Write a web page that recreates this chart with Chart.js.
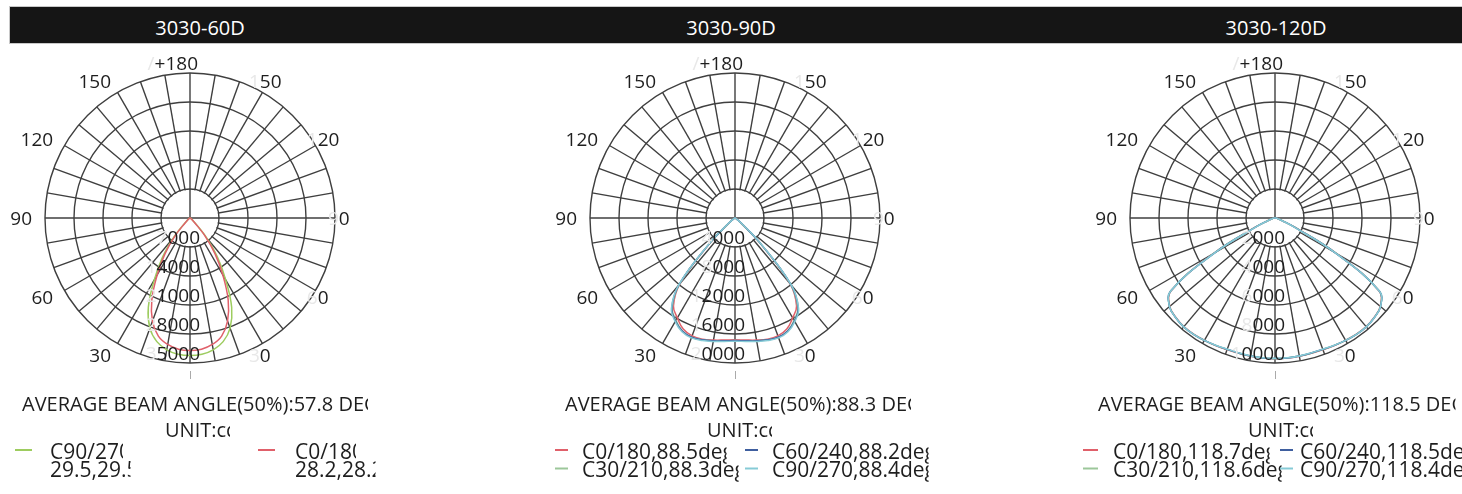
<!DOCTYPE html>
<html>
<head>
<meta charset="utf-8">
<title>3030 polar curves</title>
<script src="https://cdn.jsdelivr.net/npm/chart.js@4.4.1/dist/chart.umd.min.js"></script>
<style>
  html, body { margin: 0; padding: 0; background: #fff; }
  body { width: 1462px; height: 494px; position: relative; overflow: hidden; font-family: "Open Sans", sans-serif; }
  .bar { position: absolute; left: 10px; top: 7px; width: 1460px; height: 36px; background: #151515; box-shadow: 0 0 0 1px #c8c8c8; }
  .title { position: absolute; top: 10px; line-height: 36px; color: #fff; font-size: 20px; transform: translateX(-50%); white-space: nowrap; }
  canvas { position: absolute; top: 48px; }
</style>
</head>
<body>
<div class="bar"></div>
<div class="title" style="left:200px">3030-60D</div>
<div class="title" style="left:731px">3030-90D</div>
<div class="title" style="left:1276px">3030-120D</div>
<canvas id="p60" width="400" height="446" style="left:-10px"></canvas>
<canvas id="p90" width="400" height="446" style="left:535px"></canvas>
<canvas id="p120" width="400" height="446" style="left:1075px"></canvas>
<script>
// intensity (cd) per gamma angle 0,5,...,180 deg, one half of each C-plane
const lens60_C0  = [32000, 31800, 31000, 29500, 26500, 21800, 15800, 10500, 5500, 1600, 600, 300, 200, 120, 80, 50, 30, 20, 10, 0, 0, 0, 0, 0, 0, 0, 0, 0, 0, 0, 0, 0, 0, 0, 0, 0, 0];
const lens60_C90 = [33200, 33000, 32300, 30900, 28300, 23800, 17200, 11600, 6200, 2000, 800, 400, 250, 150, 100, 60, 40, 20, 10, 0, 0, 0, 0, 0, 0, 0, 0, 0, 0, 0, 0, 0, 0, 0, 0, 0, 0];

const lens90_C0  = [16800, 16900, 17100, 17300, 17300, 16900, 15900, 14800, 11800, 4800, 1100, 400, 200, 100, 50, 30, 20, 10, 0, 0, 0, 0, 0, 0, 0, 0, 0, 0, 0, 0, 0, 0, 0, 0, 0, 0, 0];
const lens90_C30 = [16900, 17000, 17200, 17400, 17500, 17200, 16300, 15100, 11900, 4900, 1150, 400, 200, 100, 50, 30, 20, 10, 0, 0, 0, 0, 0, 0, 0, 0, 0, 0, 0, 0, 0, 0, 0, 0, 0, 0, 0];
const lens90_C60 = [16900, 17000, 17200, 17400, 17500, 17200, 16400, 15200, 12000, 5000, 1200, 400, 200, 100, 50, 30, 20, 10, 0, 0, 0, 0, 0, 0, 0, 0, 0, 0, 0, 0, 0, 0, 0, 0, 0, 0, 0];
const lens90_C90 = [17000, 17100, 17300, 17500, 17600, 17300, 16500, 15300, 12100, 5100, 1200, 400, 200, 100, 50, 30, 20, 10, 0, 0, 0, 0, 0, 0, 0, 0, 0, 0, 0, 0, 0, 0, 0, 0, 0, 0, 0];

const lens120_C0  = [9700, 9700, 9680, 9660, 9660, 9700, 9740, 9780, 9780, 9680, 9480, 8750, 4900, 1500, 500, 250, 150, 100, 50, 0, 0, 0, 0, 0, 0, 0, 0, 0, 0, 0, 0, 0, 0, 0, 0, 0, 0];
const lens120_C30 = [9700, 9690, 9670, 9650, 9650, 9690, 9740, 9790, 9790, 9690, 9490, 8780, 4850, 1500, 500, 250, 150, 100, 50, 0, 0, 0, 0, 0, 0, 0, 0, 0, 0, 0, 0, 0, 0, 0, 0, 0, 0];
const lens120_C60 = [9690, 9690, 9670, 9640, 9640, 9690, 9750, 9800, 9800, 9700, 9500, 8800, 4800, 1450, 480, 240, 150, 100, 50, 0, 0, 0, 0, 0, 0, 0, 0, 0, 0, 0, 0, 0, 0, 0, 0, 0, 0];
const lens120_C90 = [9680, 9680, 9660, 9630, 9630, 9680, 9740, 9790, 9800, 9700, 9500, 8800, 4750, 1400, 460, 230, 140, 90, 50, 0, 0, 0, 0, 0, 0, 0, 0, 0, 0, 0, 0, 0, 0, 0, 0, 0, 0];

// ring values (tick labels)
const rings60 = [7000, 14000, 21000, 28000, 35000];
const rings90 = [4000, 8000, 12000, 16000, 20000];
const rings120 = [2000, 4000, 6000, 8000, 10000];

// angle labels on both sides and the top one
const sideAngles = [30, 60, 90, 120, 150];
const topLabel = '/+180';

const STEP = 5; // degrees between radar spokes
const labels = Array.from({ length: 360 / STEP }, (_, i) => i * STEP);

const GRID = '#3f3f3f';
const FAINT = '#e8e8e8';
const INK = '#1e1e1e';

// left half (gamma 0..180) plus the mirrored right half
const mirror = half => half.concat(half.slice(1, half.length - 1).reverse());

function drawText(ctx, text, x, y, align, faintFirst) {
  const w = ctx.measureText(text).width;
  let x0 = align === 'right' ? x - w : align === 'center' ? x - w / 2 : x;
  ctx.textAlign = 'left';
  if (faintFirst) {
    ctx.fillStyle = FAINT;
    ctx.fillText(text[0], x0, y);
    x0 += ctx.measureText(text[0]).width;
    text = text.slice(1);
  }
  ctx.fillStyle = INK;
  ctx.fillText(text, x0, y);
}

// text cut off a few pixels after its first `keep` characters
function cutText(ctx, text, x, y, keep) {
  const right = keep == null ? ctx.canvas.width : x + ctx.measureText(text.slice(0, keep)).width + 4;
  ctx.save();
  ctx.beginPath();
  ctx.rect(0, 0, right, ctx.canvas.height);
  ctx.clip();
  drawText(ctx, text, x, y, 'left');
  ctx.restore();
}

const polarDecor = {
  id: 'polarDecor',
  beforeDatasetsDraw(chart, args, o) {
    const s = chart.scales.r, ctx = chart.ctx;
    const r1 = s.getDistanceFromCenterForValue(o.rings[0]);
    ctx.save();
    ctx.fillStyle = '#fff';
    ctx.beginPath();
    ctx.arc(s.xCenter, s.yCenter, r1 - 0.9, 0, Math.PI * 2);
    ctx.fill();
    ctx.strokeStyle = GRID;
    ctx.lineWidth = 1.4;
    const left = s.getPointPosition(90 / STEP, r1);
    const right = s.getPointPosition(270 / STEP, r1);
    const top = s.getPointPosition(180 / STEP, r1);
    ctx.beginPath();
    ctx.moveTo(left.x, left.y);
    ctx.lineTo(right.x, right.y);
    ctx.moveTo(top.x, top.y);
    ctx.lineTo(s.xCenter, s.yCenter);
    ctx.stroke();
    ctx.restore();
  },
  afterDraw(chart, args, o) {
    const s = chart.scales.r, ctx = chart.ctx;
    const cx = s.xCenter, cy = s.yCenter;
    ctx.save();
    ctx.textBaseline = 'alphabetic';
    ctx.font = '19px "Open Sans"';
    o.rings.forEach(v => {
      drawText(ctx, String(v), cx + 10, cy + s.getDistanceFromCenterForValue(v) - 3.5, 'right', true);
    });
    sideAngles.forEach(g => {
      const pl = s.getPointPosition(g / STEP, 158);
      drawText(ctx, String(g), pl.x, pl.y + 7, 'right', false);
      const pr = s.getPointPosition((360 - g) / STEP, 158);
      drawText(ctx, String(g), pr.x - 20, pr.y + 7, 'left', true);
    });
    const pt = s.getPointPosition(180 / STEP, 155);
    drawText(ctx, topLabel, pt.x + 8, pt.y + 7, 'right', true);

    ctx.strokeStyle = '#aaa';
    ctx.lineWidth = 1;
    ctx.beginPath();
    ctx.moveTo(cx + 0.5, cy + s.drawingArea + 8);
    ctx.lineTo(cx + 0.5, cy + s.drawingArea + 16);
    ctx.stroke();

    ctx.font = '20px "Open Sans"';
    cutText(ctx, o.caption.text, cx + o.caption.x, cy + 192.5, o.caption.text.length - 1);
    cutText(ctx, o.unit.text, cx + o.unit.x, cy + 219, o.unit.text.length - 1);

    ctx.font = '21px "Open Sans"';
    chart.data.datasets.forEach((ds, i) => {
      const item = o.legend[i];
      const rowY = cy + 240.5 + item.row * 18.5;
      ctx.strokeStyle = ds.borderColor;
      ctx.lineWidth = 2;
      ctx.beginPath();
      ctx.moveTo(cx + item.marker[0], rowY - 8.5);
      ctx.lineTo(cx + item.marker[1], rowY - 8.5);
      ctx.stroke();
      cutText(ctx, ds.label, cx + item.x, rowY, item.keep);
      if (ds.note) cutText(ctx, ds.note, cx + item.x, rowY + 18.5, item.keepNote);
    });
    ctx.restore();
  }
};

function polarChart(id, series, rings, decor) {
  const n = series.length;
  return new Chart(document.getElementById(id), {
    type: 'radar',
    data: {
      labels: labels,
      datasets: series.map((sr, i) => ({
        label: sr.label,
        note: sr.note,
        data: mirror(sr.half),
        borderColor: sr.color,
        backgroundColor: sr.color,
        borderWidth: 1.5,
        tension: 0.4,
        fill: false,
        order: n - 1 - i,
      })),
    },
    options: {
      responsive: false,
      animation: false,
      layout: { padding: { top: 25, bottom: 131, left: 55, right: 55 } },
      elements: { point: { radius: 0 } },
      plugins: {
        legend: { display: false },
        tooltip: { enabled: false },
        polarDecor: Object.assign({ rings: rings }, decor),
      },
      scales: {
        r: {
          startAngle: 180,
          min: 0,
          max: rings[rings.length - 1],
          ticks: { display: false, stepSize: rings[0] },
          pointLabels: { display: false },
          grid: { circular: true, color: GRID, lineWidth: 1.4 },
          angleLines: { color: GRID, lineWidth: ctx => (ctx.index % 2 ? 0 : 1.4) },
        },
      },
    },
    plugins: [polarDecor],
  });
}

polarChart('p60', [
  { label: 'C90/270', note: '29.5,29.5deg', color: '#9dcc5f', half: lens60_C90 },
  { label: 'C0/180', note: '28.2,28.2deg', color: '#e0606a', half: lens60_C0 },
], rings60, {
  caption: { text: 'AVERAGE BEAM ANGLE(50%):57.8 DEG', x: -168 },
  unit: { text: 'UNIT:cd', x: -25 },
  legend: [
    { row: 0, marker: [-175, -158], x: -140, keep: 6, keepNote: 8 },
    { row: 0, marker: [68, 85], x: 105, keep: 5, keepNote: 8 },
  ],
});

polarChart('p90', [
  { label: 'C0/180,88.5deg', color: '#e0606a', half: lens90_C0 },
  { label: 'C30/210,88.3deg', color: '#9cc79a', half: lens90_C30 },
  { label: 'C60/240,88.2deg', color: '#3f5f9f', half: lens90_C60 },
  { label: 'C90/270,88.4deg', color: '#86cbd6', half: lens90_C90 },
], rings90, {
  caption: { text: 'AVERAGE BEAM ANGLE(50%):88.3 DEG', x: -170 },
  unit: { text: 'UNIT:cd', x: -28 },
  legend: [
    { row: 0, marker: [-180, -167], x: -153, keep: 13 },
    { row: 1, marker: [-180, -167], x: -153, keep: 14 },
    { row: 0, marker: [10, 23], x: 37, keep: 14 },
    { row: 1, marker: [10, 23], x: 37, keep: 14 },
  ],
});

polarChart('p120', [
  { label: 'C0/180,118.7deg', color: '#e0606a', half: lens120_C0 },
  { label: 'C30/210,118.6deg', color: '#9cc79a', half: lens120_C30 },
  { label: 'C60/240,118.5deg', color: '#3f5f9f', half: lens120_C60 },
  { label: 'C90/270,118.4deg', color: '#86cbd6', half: lens120_C90 },
], rings120, {
  caption: { text: 'AVERAGE BEAM ANGLE(50%):118.5 DEG', x: -177 },
  unit: { text: 'UNIT:cd', x: -27 },
  legend: [
    { row: 0, marker: [-192, -177], x: -162, keep: 14 },
    { row: 1, marker: [-192, -177], x: -162, keep: 15 },
    { row: 0, marker: [5, 18], x: 25 },
    { row: 1, marker: [5, 18], x: 25 },
  ],
});
</script>
</body>
</html>
